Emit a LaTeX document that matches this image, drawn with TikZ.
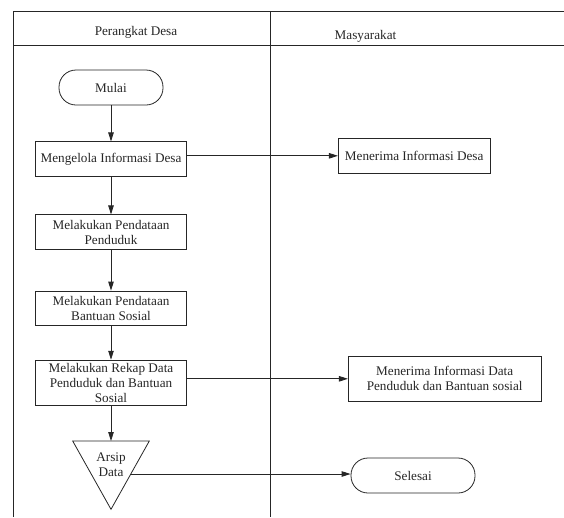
\documentclass[tikz,border=0pt]{standalone}
\usepackage{fontspec}
\setmainfont{Liberation Serif}
\usetikzlibrary{arrows.meta}
\begin{document}
\begin{tikzpicture}[x=1pt,y=-1pt,
  every node/.style={font=\fontsize{13.2}{15}\selectfont, text=black!85},
  line/.style={draw=black!85, line width=0.8pt},
  arr/.style={line, -{Triangle[length=9pt,width=5.5pt]}},
  procbox/.style={draw=black!85, line width=0.8pt, rectangle, align=center, inner sep=1pt},
  termbox/.style={draw=black!85, line width=0.8pt, rectangle, rounded corners=17pt, align=center, minimum height=35pt}
]
\useasboundingbox (0,0) rectangle (564,517);
% frame
\draw[line] (13.3,517) -- (13.3,11) -- (564,11);
\draw[line] (13.3,45) -- (564,45);
\draw[line] (270.7,11) -- (270.7,517);
\node (h1) at (136,32) {Perangkat Desa};
\node (h2) at (365.5,36) {Masyarakat};
% left lane
\node[termbox, minimum width=104pt] (mulai) at (111,87.5) {Mulai};
\node[procbox, minimum width=151.7pt, minimum height=34.3pt] (meng) at (111,159) {Mengelola Informasi Desa};
\node[procbox, minimum width=151.7pt, minimum height=34.3pt] (pend) at (111,232) {Melakukan Pendataan\\Penduduk};
\node[procbox, minimum width=151.7pt, minimum height=34pt] (bant) at (111,308) {Melakukan Pendataan\\Bantuan Sosial};
\node[procbox, minimum width=151.7pt, minimum height=45.7pt] (rekap) at (111,383) {Melakukan Rekap Data\\Penduduk dan Bantuan\\Sosial};
% archive triangle
\coordinate (arsipT) at (111,441);
\draw[line, line join=miter] (72.7,441) -- (149.3,441) -- (111,509.3) -- cycle;
\node[align=center, inner sep=0pt] (arsip) at (111,465) {Arsip\\Data};
\coordinate (arsipR) at (131.3,474);
% right lane
\node[procbox, minimum width=151.7pt, minimum height=35pt] (terima1) at (414.2,155.8) {Menerima Informasi Desa};
\node[procbox, minimum width=192.7pt, minimum height=44.3pt] (terima2) at (444.7,378.8) {Menerima Informasi Data\\Penduduk dan Bantuan sosial};
\node[termbox, minimum width=124pt] (selesai) at (413,475.5) {Selesai};
% connectors
\draw[arr] (mulai.south) -- (meng.north);
\draw[arr] (meng.south) -- (pend.north);
\draw[arr] (pend.south) -- (bant.north);
\draw[arr] (bant.south) -- (rekap.north);
\draw[arr] (rekap.south) -- (arsipT);
\draw[arr] (meng.east |- terima1.west) -- (terima1.west);
\draw[arr] (rekap.east |- terima2.west) -- (terima2.west);
\draw[arr] (arsipR) -- (arsipR -| selesai.west);
\end{tikzpicture}
\end{document}
